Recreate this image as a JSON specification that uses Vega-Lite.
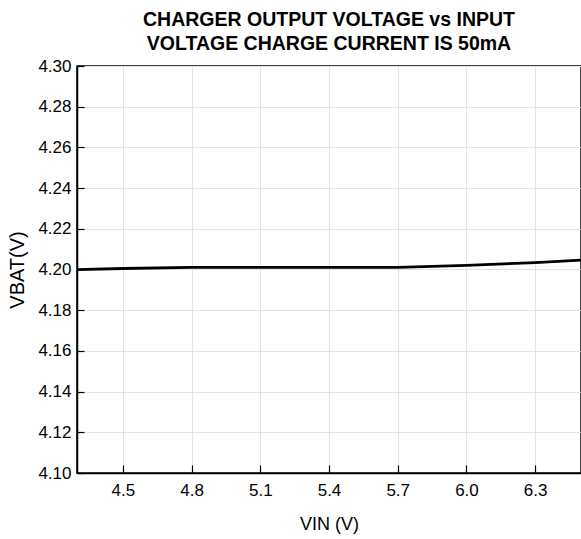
{
  "$schema": "https://vega.github.io/schema/vega-lite/v6.json",
  "autosize": "none",
  "width": 504,
  "height": 407,
  "padding": {"left": 77, "top": 66, "right": 0, "bottom": 66},
  "background": "white",
  "title": {
    "text": ["CHARGER OUTPUT VOLTAGE vs INPUT", "VOLTAGE CHARGE CURRENT IS 50mA"],
    "font": "Liberation Sans",
    "fontSize": 19.5,
    "fontWeight": "bold",
    "color": "black",
    "anchor": "middle",
    "lineHeight": 24,
    "offset": 3
  },
  "data": {
    "values": [
      {"vin": 4.3, "vbat": 4.1999},
      {"vin": 4.5, "vbat": 4.2005},
      {"vin": 4.8, "vbat": 4.2010},
      {"vin": 5.1, "vbat": 4.2010},
      {"vin": 5.4, "vbat": 4.2010},
      {"vin": 5.7, "vbat": 4.2010},
      {"vin": 6.0, "vbat": 4.2020},
      {"vin": 6.3, "vbat": 4.2034},
      {"vin": 6.5, "vbat": 4.2046}
    ]
  },
  "mark": {"type": "line", "color": "black", "strokeWidth": 2.8, "clip": true},
  "encoding": {
    "x": {
      "field": "vin", "type": "quantitative",
      "scale": {"domain": [4.3, 6.5], "nice": false, "zero": false},
      "axis": {
        "title": "VIN (V)",
        "values": [4.5, 4.8, 5.1, 5.4, 5.7, 6.0, 6.3],
        "format": ".1f",
        "tickSize": -8,
        "labelPadding": 17,
        "titlePadding": 17,
        "titleFontSize": 18
      }
    },
    "y": {
      "field": "vbat", "type": "quantitative",
      "scale": {"domain": [4.1, 4.3], "nice": false, "zero": false},
      "axis": {
        "title": "VBAT(V)",
        "values": [4.1, 4.12, 4.14, 4.16, 4.18, 4.2, 4.22, 4.24, 4.26, 4.28, 4.3],
        "format": ".2f",
        "tickSize": -7,
        "labelPadding": 13,
        "titlePadding": 10,
        "titleFontSize": 20
      }
    }
  },
  "config": {
    "view": {"stroke": "black", "strokeWidth": 1.5},
    "axis": {
      "labelFont": "Liberation Sans",
      "labelFontSize": 17,
      "labelColor": "black",
      "titleFont": "Liberation Sans",
      "titleFontWeight": "normal",
      "titleColor": "black",
      "domainColor": "black",
      "domainWidth": 1.5,
      "tickColor": "black",
      "tickWidth": 1.2,
      "grid": true,
      "gridColor": "#e3e3e3",
      "gridWidth": 1
    }
  }
}
